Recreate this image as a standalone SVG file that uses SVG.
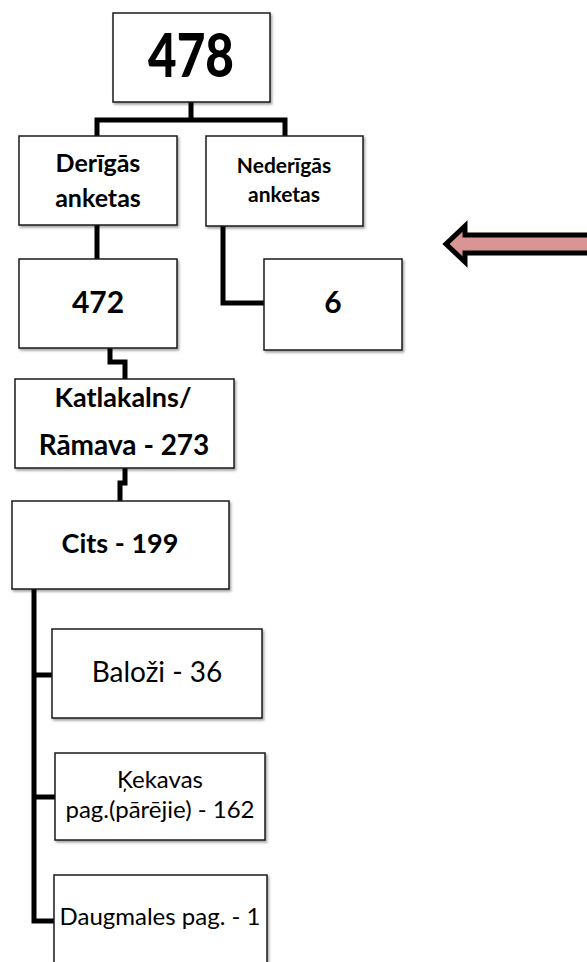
<svg xmlns="http://www.w3.org/2000/svg" width="587" height="962" viewBox="0 0 587 962">
<style>
.box{fill:#fff;stroke:#1a1a1a;stroke-width:1.5;filter:url(#sh)}
.t{font-family:Lato,"Open Sans","Liberation Sans",sans-serif;fill:#000;text-anchor:middle}
.b{font-weight:bold}
.c{fill:none;stroke:#000;stroke-width:5;stroke-linejoin:miter}
</style>
<defs>
<filter id="sh" x="-10%" y="-10%" width="130%" height="130%">
<feDropShadow dx="1.5" dy="2" stdDeviation="1.2" flood-color="#000" flood-opacity="0.35"/>
</filter>
</defs>
<rect width="587" height="962" fill="#fff"/>
<g id="connectors">
<path class="c" d="M191,102 V120 M97,138 V120 H285 V138"/>
<path class="c" d="M97,225 V259"/>
<path class="c" d="M223,226 V303 H266"/>
<path class="c" d="M110,348 V362 H125 V379"/>
<path class="c" d="M125,468 V483 H120 V501"/>
<path class="c" d="M34,589 V921 H56 M34,675 H54 M34,797 H57"/>
</g>
<g id="n478"><rect class="box" x="113" y="13" width="157" height="89"/><text class="t" x="191" y="77" font-size="60" font-weight="900" textLength="86" lengthAdjust="spacingAndGlyphs">478</text></g>
<g id="derigas"><rect class="box" x="19" y="136" width="158" height="89"/><text class="t b" x="98" y="172" font-size="25">Derīgās</text><text class="t b" x="98" y="207" font-size="25">anketas</text></g>
<g id="nederigas"><rect class="box" x="206" y="136" width="157" height="90"/><text class="t b" x="284" y="173" font-size="21">Nederīgās</text><text class="t b" x="284" y="202" font-size="21">anketas</text></g>
<g id="n472"><rect class="box" x="19" y="259" width="158" height="89"/><text class="t b" x="98" y="313" font-size="30">472</text></g>
<g id="n6"><rect class="box" x="264" y="259" width="138" height="91"/><text class="t b" x="333" y="313" font-size="30">6</text></g>
<g id="arrow"><path d="M587,235 H465 V226 L446,244 L465,262 V253 H587" fill="#d99594" stroke="#000" stroke-width="5" stroke-linejoin="miter"/></g>
<g id="katlakalns"><rect class="box" x="15" y="379" width="219" height="89"/><text class="t b" x="123" y="407" font-size="27">Katlakalns/</text><text class="t b" x="124" y="455" font-size="28">Rāmava - 273</text></g>
<g id="cits"><rect class="box" x="12" y="501" width="217" height="88"/><text class="t b" x="120" y="553" font-size="27">Cits - 199</text></g>
<g id="balozi"><rect class="box" x="52" y="629" width="210" height="89"/><text class="t" x="157" y="682" font-size="28">Baloži - 36</text></g>
<g id="kekavas"><rect class="box" x="55" y="753" width="210" height="87"/><text class="t" x="160" y="788" font-size="24">Ķekavas</text><text class="t" x="160" y="818" font-size="24">pag.(pārējie) - 162</text></g>
<g id="daugmales"><rect class="box" x="54" y="875" width="213" height="100"/><text class="t" x="160" y="925" font-size="24">Daugmales pag. - 1</text></g>
</svg>
